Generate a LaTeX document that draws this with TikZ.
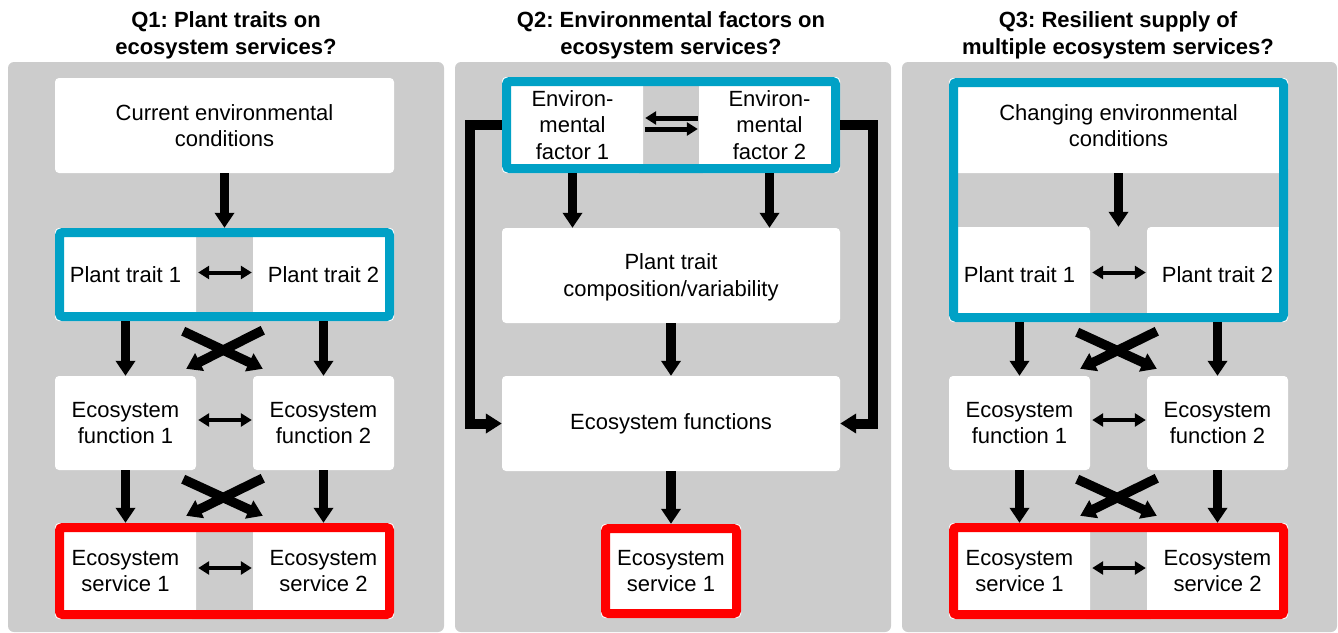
\documentclass[tikz,border=0pt]{standalone}
\usepackage{fontspec}
\setmainfont{Liberation Sans}
\usetikzlibrary{arrows.meta,calc}
\definecolor{panelgray}{RGB}{204,204,204}
\definecolor{frameblue}{RGB}{0,161,198}
\definecolor{framered}{RGB}{255,0,0}
\newcommand{\txtfont}{\fontsize{22}{26.5}\selectfont}
\frenchspacing
\tikzset{
 panel/.style={fill=panelgray, rounded corners=6pt},
 box/.style={fill=white, rounded corners=4pt, inner sep=0pt, align=center, font=\txtfont},
 ttl/.style={align=center, font=\txtfont\bfseries, inner sep=0pt},
 fat/.style={line width=9.5pt, -{Triangle[width=19pt,length=15pt]}},
 fatloop/.style={line width=10pt, -{Triangle[width=19pt,length=16pt]}},
 dbl/.style={line width=4pt, {Triangle[width=13pt,length=11pt]}-{Triangle[width=13pt,length=11pt]}},
 half/.style={line width=5pt, -{Triangle[width=13pt,length=11pt]}},
 bluef/.style={draw=frameblue, line width=9pt, rounded corners=3pt},
 redf/.style={draw=framered, line width=9pt, rounded corners=3pt},
}
\begin{document}
\begin{tikzpicture}[x=1pt,y=-1pt]
\useasboundingbox (0,0) rectangle (1338,632);
% panels
\fill[panel] (8,62) rectangle (444,632);
\fill[panel] (455,62) rectangle (891,632);
\fill[panel] (902,62) rectangle (1337,632);
% titles
\node[ttl] (t1) at (226,35.5) {Q1: Plant traits on\\ecosystem services?};
\node[ttl] (t2) at (671,35.5) {Q2: Environmental factors on\\ecosystem services?};
\node[ttl] (t3) at (1118,35.5) {Q3: Resilient supply of\\multiple ecosystem services?};

% ---------- Panel 1 ----------
\node[box, minimum width=339pt, minimum height=95pt] (env1) at (224.5,125.5) {Current environmental\\conditions};
\node[box, minimum width=141pt, minimum height=93pt] (pa1) at (125.5,274.5) {Plant trait 1};
\node[box, minimum width=141pt, minimum height=93pt] (pb1) at (323.5,274.5) {Plant trait 2};
\node[box, minimum width=141pt, minimum height=94pt] (fa1) at (125.5,423) {Ecosystem\\function 1};
\node[box, minimum width=141pt, minimum height=94pt] (fb1) at (323.5,423) {Ecosystem\\function 2};
\node[box, minimum width=141pt, minimum height=96pt] (sa1) at (125.5,571) {Ecosystem\\service 1};
\node[box, minimum width=141pt, minimum height=96pt] (sb1) at (323.5,571) {Ecosystem\\service 2};
\draw[bluef] (59.5,232.5) rectangle (389.5,316.5);
\draw[redf] (59.5,527.5) rectangle (389.5,614.5);
\draw[fat] (env1.south) -- (env1.south |- pa1.north);
\draw[fat] (pa1.south) -- (fa1.north);
\draw[fat] (pb1.south) -- (fb1.north);
\draw[fat] (fa1.south) -- (sa1.north);
\draw[fat] (fb1.south) -- (sb1.north);
\draw[fat] ($(pa1.south east)+(-13,10)$) -- ($(fb1.north west)+(10,-7)$);
\draw[fat] ($(pb1.south west)+(10,9)$) -- ($(fa1.north east)+(-10,-7)$);
\draw[fat] ($(fa1.south east)+(-13,9)$) -- ($(sb1.north west)+(10,-7)$);
\draw[fat] ($(fb1.south west)+(10,8)$) -- ($(sa1.north east)+(-10,-7)$);
\draw[dbl] ($(pa1.east)+(2,-2)$) -- ($(pb1.west)+(-1,-2)$);
\draw[dbl] ($(fa1.east)+(2,-3)$) -- ($(fb1.west)+(-1,-3)$);
\draw[dbl] ($(sa1.east)+(2,-3)$) -- ($(sb1.west)+(-1,-3)$);

% ---------- Panel 2 ----------
\node[box, minimum width=141pt, minimum height=96pt] (f1) at (572.5,125) {Environ-\\mental\\factor 1};
\node[box, minimum width=141pt, minimum height=96pt] (f2) at (769.5,125) {Environ-\\mental\\factor 2};
\draw[bluef] (506.5,81.5) rectangle (835.5,168.5);
\node[box, minimum width=338pt, minimum height=95pt] (pt2) at (671,275.5) {\rule{0pt}{20pt}Plant trait\\composition/variability};
\node[box, minimum width=338pt, minimum height=95pt] (efs) at (671,423.5) {Ecosystem functions};
\node[box, minimum width=140pt, minimum height=94pt] (es2) at (671,571) {Ecosystem\\service 1};
\draw[redf] (605.5,528.5) rectangle (736.5,613.5);
\draw[half] ($(f2.west)+(-1,-7)$) -- ($(f1.east)+(2,-7)$);
\draw[half] ($(f1.east)+(2,4)$) -- ($(f2.west)+(-1,4)$);
\draw[fat] (f1.south) -- (f1.south |- pt2.north);
\draw[fat] (f2.south) -- (f2.south |- pt2.north);
\draw[fat] (pt2.south) -- (efs.north);
\draw[fat] (efs.south) -- (es2.north);
\draw[fatloop] (f1.west) -- ++(-32,0) |- (efs.west);
\draw[fatloop] (f2.east) -- ++(33,0) |- (efs.east);

% ---------- Panel 3 ----------
\node[box, minimum width=339pt, minimum height=95pt] (env3) at (1118.5,125.5) {Changing environmental\\conditions};
\node[box, minimum width=141pt, minimum height=95pt] (pa3) at (1019.5,274.5) {Plant trait 1};
\node[box, minimum width=141pt, minimum height=95pt] (pb3) at (1217.5,274.5) {Plant trait 2};
\draw[bluef] (953.5,82.5) rectangle (1283.5,317.5);
\node[box, minimum width=141pt, minimum height=94pt] (fa3) at (1019.5,423) {Ecosystem\\function 1};
\node[box, minimum width=141pt, minimum height=94pt] (fb3) at (1217.5,423) {Ecosystem\\function 2};
\node[box, minimum width=141pt, minimum height=96pt] (sa3) at (1019.5,571) {Ecosystem\\service 1};
\node[box, minimum width=141pt, minimum height=96pt] (sb3) at (1217.5,571) {Ecosystem\\service 2};
\draw[redf] (953.5,527.5) rectangle (1283.5,614.5);
\draw[fat] (env3.south) -- (env3.south |- pa3.north);
\draw[fat] (pa3.south) -- (fa3.north);
\draw[fat] (pb3.south) -- (fb3.north);
\draw[fat] (fa3.south) -- (sa3.north);
\draw[fat] (fb3.south) -- (sb3.north);
\draw[fat] ($(pa3.south east)+(-13,10)$) -- ($(fb3.north west)+(10,-7)$);
\draw[fat] ($(pb3.south west)+(10,9)$) -- ($(fa3.north east)+(-10,-7)$);
\draw[fat] ($(fa3.south east)+(-13,9)$) -- ($(sb3.north west)+(10,-7)$);
\draw[fat] ($(fb3.south west)+(10,8)$) -- ($(sa3.north east)+(-10,-7)$);
\draw[dbl] ($(pa3.east)+(2,-2)$) -- ($(pb3.west)+(-1,-2)$);
\draw[dbl] ($(fa3.east)+(2,-3)$) -- ($(fb3.west)+(-1,-3)$);
\draw[dbl] ($(sa3.east)+(2,-3)$) -- ($(sb3.west)+(-1,-3)$);
\end{tikzpicture}
\end{document}
